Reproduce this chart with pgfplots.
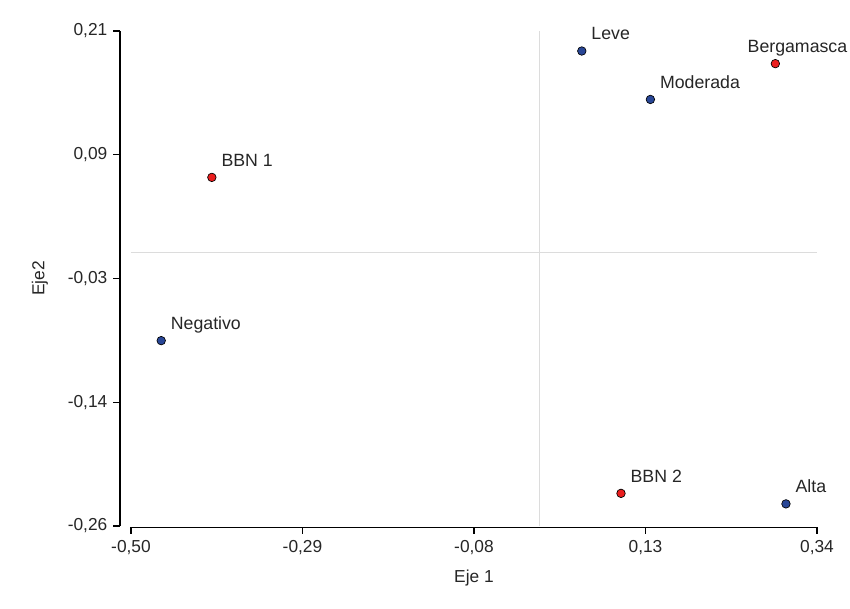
\documentclass[border=0pt]{standalone}
\usepackage{fontspec}
\setmainfont{Liberation Sans}
\usepackage{pgfplots}
\usepackage{pgfplotstable}
\pgfplotsset{compat=1.18}
\definecolor{ptblue}{RGB}{40,70,150}
\definecolor{ptred}{RGB}{235,30,30}
\definecolor{refgray}{RGB}{220,220,220}
\pgfplotstableread{
x y label
0.052 0.191 Leve
0.136 0.145 Moderada
-0.463 -0.084 Negativo
0.302 -0.239 Alta
}\bluedata
\pgfplotstableread{
x y label
-0.401 0.071 {BBN 1}
0.100 -0.229 {BBN 2}
}\reddata
\pgfplotstableread{
x y label
0.289 0.179 Bergamasca
}\reddataedge
\begin{document}
\fontsize{13bp}{15bp}\selectfont
\begin{tikzpicture}
\path[use as bounding box] (-98.25bp,-62.25bp) rectangle (539.25bp,394.5bp);
\begin{axis}[
  at={(0,0)}, anchor=south west,
  scale only axis,
  width=514.5bp, height=371.25bp,
  xmin=-0.5, xmax=0.34, ymin=-0.26, ymax=0.21,
  axis lines*=left,
  axis y line shift=8.25bp,
  axis x line shift=1bp,
  axis line style={black, line width=0.9pt},
  tick align=outside,
  major tick length=5bp,
  tick style={black, line width=0.9pt},
  xtick={-0.5,-0.29,-0.08,0.13,0.34},
  xticklabels={{-0,50},{-0,29},{-0,08},{0,13},{0,34}},
  ytick={-0.26,-0.1425,-0.025,0.0925,0.21},
  yticklabels={{-0,26},{-0,14},{-0,03},{0,09},{0,21}},
  ticklabel style={font=\fontsize{13bp}{15bp}\selectfont, text=black!85},
  every axis x label/.style={at={(axis description cs:0.5,0)}, yshift=-39bp, anchor=center},
  every axis y label/.style={at={(axis description cs:0,0.5)}, xshift=-68.25bp, rotate=90, anchor=center},
  xlabel={Eje 1}, ylabel={Eje2},
  label style={font=\fontsize{13bp}{15bp}\selectfont, text=black!85},
  clip=false,
  point meta=explicit symbolic,
  nodes near coords={\pgfplotspointmeta},
  every node near coord/.style={anchor=base west, xshift=7bp, yshift=8.5bp, font=\fontsize{13.3bp}{15bp}\selectfont, text=black!85, inner sep=0pt},
]
\addplot[refgray, line width=0.7pt, nodes near coords={}] coordinates {(0,-0.26) (0,0.21)};
\addplot[refgray, line width=0.7pt, nodes near coords={}] coordinates {(-0.5,0) (0.34,0)};
\addplot[only marks, mark=*, mark size=3.2bp, mark options={fill=ptblue, draw=black, line width=0.5pt}] table[x=x, y=y, meta=label] {\bluedata};
\addplot[only marks, mark=*, mark size=3.2bp, mark options={fill=ptred, draw=black, line width=0.5pt}] table[x=x, y=y, meta=label] {\reddata};
\addplot[only marks, mark=*, mark size=3.2bp, mark options={fill=ptred, draw=black, line width=0.5pt},
  every node near coord/.append style={xshift=-28bp}] table[x=x, y=y, meta=label] {\reddataedge};
\end{axis}
\end{tikzpicture}
\end{document}
